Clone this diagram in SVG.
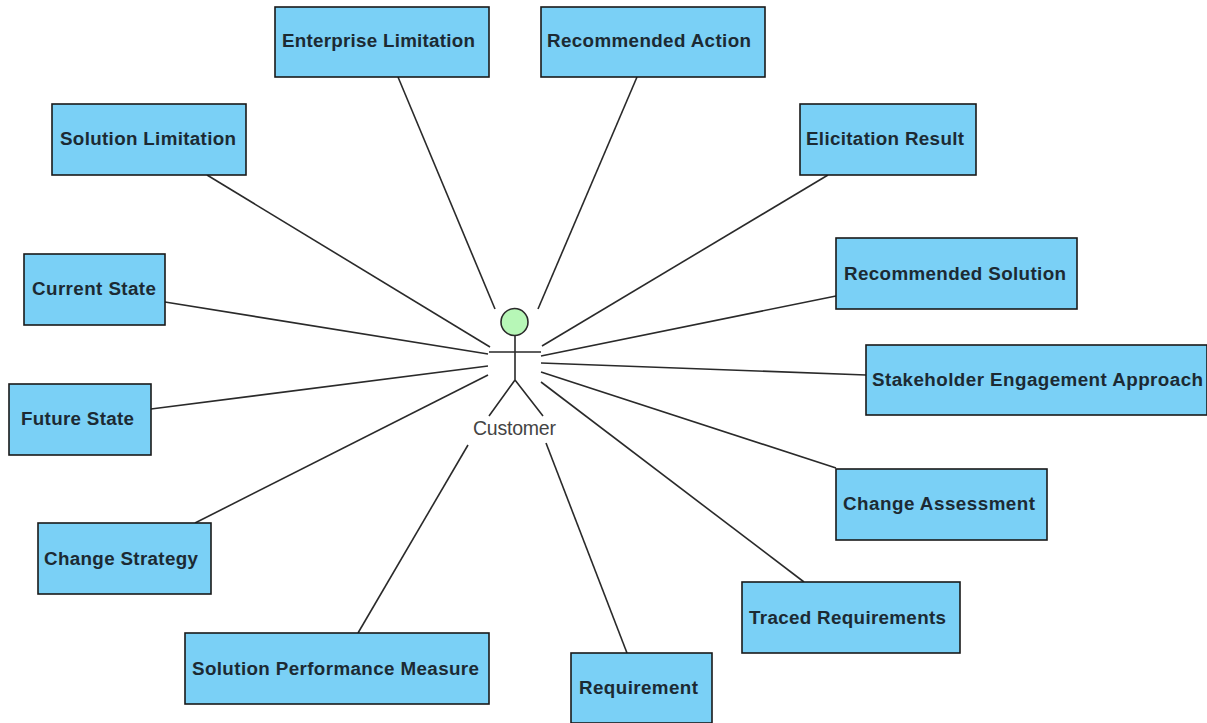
<svg xmlns="http://www.w3.org/2000/svg" width="1207" height="723" viewBox="0 0 1207 723">
<style>
.n{fill:#7ad0f6;stroke:#1a1a1a;stroke-width:1.6}
.t{font-family:"Liberation Sans",Arial,sans-serif;font-size:18.800px;font-weight:bold;fill:#1c2a33}
.c{fill:none;stroke:#2a2a2a;stroke-width:1.6}
.l{font-family:"Liberation Sans",Arial,sans-serif;font-size:19.500px;fill:#444}
</style>
<rect width="1207" height="723" fill="#fff"/>
<g id="connectors" class="c">
<path d="M398 77L495 309"/><path d="M637 77L538 309"/><path d="M207 175L490 347"/><path d="M828 175L542 346"/><path d="M165 302L488 354"/><path d="M836 296L541 356"/><path d="M151 409L488 366"/><path d="M866 375L541 363"/><path d="M195 523L488 375"/><path d="M836 468L541 372"/><path d="M358 633L468 445"/><path d="M804 582L541 382"/><path d="M627 653L546 443"/>
</g>
<g id="customer" class="c">
<circle cx="514.500" cy="322" r="13.500" fill="#b7f7b7"/>
<path d="M515 336V380M489 352H541M515 380L489 416M515 380L543 416"/>
<text class="l" x="473" y="435" textLength="83" lengthAdjust="spacing" stroke="none">Customer</text>
</g>
<g id="n1"><rect class="n" x="275" y="7" width="214" height="70"/><text class="t" x="282" y="47" textLength="193">Enterprise Limitation</text></g>
<g id="n2"><rect class="n" x="541" y="7" width="224" height="70"/><text class="t" x="547" y="47" textLength="204">Recommended Action</text></g>
<g id="n3"><rect class="n" x="52" y="104" width="194" height="71"/><text class="t" x="60" y="145" textLength="176">Solution Limitation</text></g>
<g id="n4"><rect class="n" x="800" y="104" width="176" height="71"/><text class="t" x="806" y="145" textLength="158">Elicitation Result</text></g>
<g id="n5"><rect class="n" x="24" y="254" width="141" height="71"/><text class="t" x="32" y="295" textLength="124">Current State</text></g>
<g id="n6"><rect class="n" x="836" y="238" width="241" height="71"/><text class="t" x="844" y="280" textLength="222">Recommended Solution</text></g>
<g id="n7"><rect class="n" x="9" y="384" width="142" height="71"/><text class="t" x="21" y="425" textLength="113">Future State</text></g>
<g id="n8"><rect class="n" x="866" y="345" width="341" height="70"/><text class="t" x="872" y="386" textLength="331">Stakeholder Engagement Approach</text></g>
<g id="n9"><rect class="n" x="38" y="523" width="173" height="71"/><text class="t" x="44" y="565" textLength="154">Change Strategy</text></g>
<g id="n10"><rect class="n" x="836" y="469" width="211" height="71"/><text class="t" x="843" y="510" textLength="192">Change Assessment</text></g>
<g id="n11"><rect class="n" x="185" y="633" width="304" height="71"/><text class="t" x="192" y="675" textLength="287">Solution Performance Measure</text></g>
<g id="n12"><rect class="n" x="571" y="653" width="141" height="70"/><text class="t" x="579" y="694" textLength="119">Requirement</text></g>
<g id="n13"><rect class="n" x="742" y="582" width="218" height="71"/><text class="t" x="749" y="624" textLength="197">Traced Requirements</text></g>
</svg>
